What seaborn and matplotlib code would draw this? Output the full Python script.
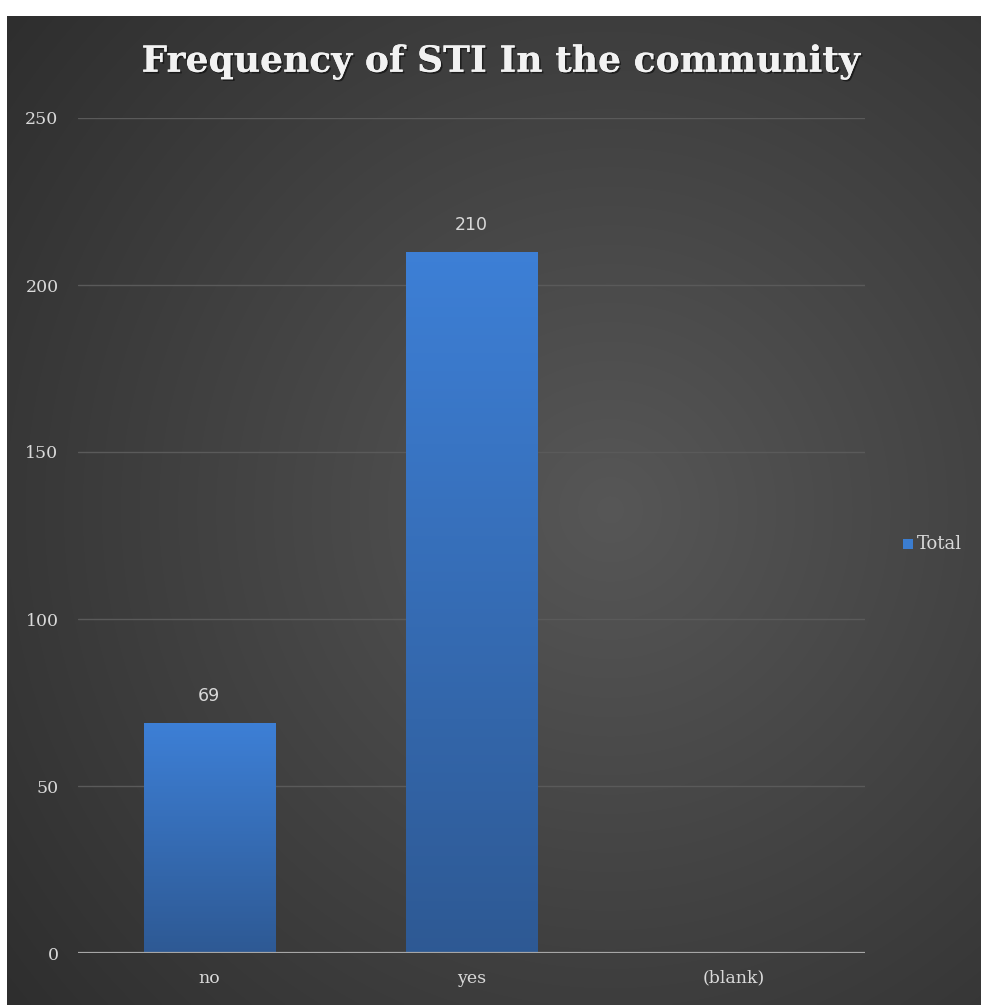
import numpy as np
import pandas as pd
import matplotlib
matplotlib.use("Agg")
import matplotlib.pyplot as plt
import matplotlib.patheffects as pe
from matplotlib.patches import Rectangle
import seaborn as sns

categories = ["no", "yes", "(blank)"]
totals = [69, 210, 0]
y_ticks = [0, 50, 100, 150, 200, 250]

df = pd.DataFrame({"answer": categories, "Total": totals})

sns.set_theme(style="dark")
plt.rcParams["font.family"] = ["DejaVu Serif"]

W, H = 981, 1005
fig = plt.figure(figsize=(W / 100, H / 100), dpi=100)
fig.patch.set_facecolor("white")

# dark panel with a soft radial glow
bg = fig.add_axes([7 / W, 0, 1 - 7 / W, 1 - 16 / H])
bg.set_axis_off()
yy, xx = np.mgrid[0:400, 0:400] / 399.0
r = np.sqrt(((xx - 0.62) / 0.8) ** 2 + ((yy - 0.50) / 0.8) ** 2)
shade = np.clip(0.34 - 0.16 * r, 0.16, 0.36)
bg.imshow(np.dstack([shade] * 3), extent=[0, 1, 0, 1], aspect="auto", interpolation="bilinear")
bg.set_xlim(0, 1)
bg.set_ylim(0, 1)

ax = fig.add_axes([78 / W, (H - 953) / H, (865 - 78) / W, (953 - 118) / H])
ax.patch.set_alpha(0)
sns.barplot(data=df, x="answer", y="Total", ax=ax, width=0.5, color="#3b7dd0",
            saturation=1, zorder=3)
ax.set_ylim(0, 250)
ax.set_xlim(-0.5, 2.5)
ax.set_yticks(y_ticks)
ax.set_xlabel("")
ax.set_ylabel("")
for s in ax.spines.values():
    s.set_visible(False)
ax.grid(False)
for t in y_ticks[1:]:
    ax.axhline(t, color="#5a5a5a", lw=1.0, zorder=1)
ax.axhline(0, color="#a6a6a6", lw=1.6, zorder=4)
ax.tick_params(axis="both", colors="#d9d9d9", labelsize=12.5, length=0)
ax.tick_params(axis="y", pad=14)
ax.tick_params(axis="x", pad=12)

# vertical gradient fill on each bar, plus value labels
grad = np.linspace(0, 1, 256).reshape(-1, 1)
top_c = np.array([0.24, 0.50, 0.84])
bot_c = np.array([0.18, 0.35, 0.58])
for patch, val in zip(ax.patches, totals):
    x0, y0 = patch.get_x(), patch.get_y()
    w, h = patch.get_width(), patch.get_height()
    if h <= 0:
        continue
    img = top_c * (1 - grad[..., None]) + bot_c * grad[..., None]
    im = ax.imshow(img, extent=[x0, x0 + w, y0, y0 + h], aspect="auto",
                   origin="upper", zorder=3)
    im.set_clip_path(patch)
    patch.set_facecolor("none")
    patch.set_edgecolor("#3a78c4")
    patch.set_linewidth(0.6)
    ax.text(x0 + w / 2, y0 + h + 8, f"{val}", ha="center", va="center",
            color="#d9d9d9", fontsize=12.5, family="DejaVu Sans", zorder=5)
ax.set_xlim(-0.5, 2.5)
ax.set_ylim(0, 250)

fig.text(0.511, 1 - 62 / H, "Frequency of STI In the community", ha="center", va="center",
         fontsize=26, fontweight="bold", color="#f2f2f2",
         path_effects=[pe.withSimplePatchShadow(offset=(1.2, -1.2), shadow_rgbFace="black", alpha=0.5),
                       pe.Normal()])

# legend
fig.patches.append(Rectangle((903 / W, 1 - 549 / H), 10 / W, 10 / H,
                             transform=fig.transFigure, facecolor="#3b7dd0",
                             edgecolor="none", figure=fig))
fig.text(917 / W, 1 - 544 / H, "Total", ha="left", va="center", fontsize=13,
         color="#d9d9d9")

fig.savefig("out.png", dpi=100, facecolor=fig.get_facecolor())
